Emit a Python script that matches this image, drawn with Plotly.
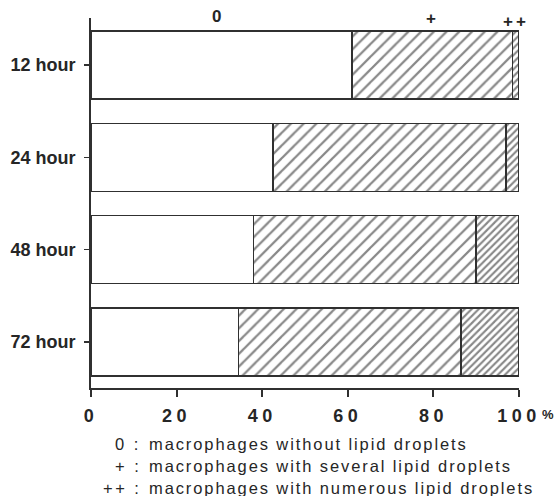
import plotly.graph_objects as go

# ---- data ----
categories = ["12 hour", "24 hour", "48 hour", "72 hour"]
none_pct = [61, 42.5, 38, 34.5]        # 0  : without lipid droplets
several_pct = [37.5, 54.5, 52, 52]     # +  : several lipid droplets
numerous_pct = [1.5, 3, 10, 13.5]      # ++ : numerous lipid droplets
x_ticks = [0, 20, 40, 60, 80, 100]
x_tick_labels = ["0", "20", "40", "60", "80", "100"]
group_keys = ["0", "+", "++"]
group_desc = [
    "macrophages without lipid droplets",
    "macrophages with several lipid droplets",
    "macrophages with numerous lipid droplets",
]

INK = "#262626"
LINE = "#303030"
FONT = "Liberation Sans, Arial, sans-serif"

W, H = 555, 496
L, R, T, B = 91, 36, 18, 108
PW, PH = W - L - R, H - T - B


def px_to_paper_x(px):
    return (px - L) / PW


def px_to_paper_y(py):
    return (H - B - py) / PH


fig = go.Figure()
series = [
    (none_pct, dict(fillmode="overlay", shape="", bgcolor="white")),
    (several_pct, dict(shape="/", size=9, solidity=0.25, fgcolor="#111111", bgcolor="white", fillmode="overlay")),
    (numerous_pct, dict(shape="/", size=5, solidity=0.42, fgcolor="#111111", bgcolor="white", fillmode="overlay")),
]
for (vals, pat), key in zip(series, group_keys):
    fig.add_trace(go.Bar(
        y=categories, x=vals, orientation="h", name=key,
        marker=dict(color="white", pattern=pat, line=dict(color=LINE, width=1.6)),
        showlegend=False, hoverinfo="skip",
    ))

# column header labels above the first bar, centred on its segments
first = [none_pct[0], several_pct[0], numerous_pct[0]]
starts = [0, first[0], first[0] + first[1]]
centers = [s + v / 2 for s, v in zip(starts, first)]
header_shift = [-5, -1, 0]
header_py = [16, 18, 21]
for key, cx, dx, hy in zip(group_keys, centers, header_shift, header_py):
    fig.add_annotation(
        x=cx, y=px_to_paper_y(hy), xref="x", yref="paper", xshift=dx,
        text=f"<span style='letter-spacing:3px'>{key}</span>" if key == "++" else key,
        showarrow=False, xanchor="center", yanchor="middle",
        font=dict(family=FONT, size=17, color=INK, weight="bold"),
    )

# "%" after the 100 tick label
fig.add_annotation(
    x=px_to_paper_x(540), y=px_to_paper_y(414), xref="paper", yref="paper",
    text="%", showarrow=False, xanchor="left", yanchor="middle",
    font=dict(family=FONT, size=13, color=INK, weight="bold"),
)

# explanatory key under the chart
line_y = [444, 466, 488]
for key, desc, ly in zip(group_keys, group_desc, line_y):
    fig.add_annotation(
        x=px_to_paper_x(143), y=px_to_paper_y(ly), xref="paper", yref="paper",
        text=f"<span style='letter-spacing:2.5px'>{key} :</span>", showarrow=False,
        xanchor="right", yanchor="middle",
        font=dict(family=FONT, size=16.5, color=INK),
    )
    fig.add_annotation(
        x=px_to_paper_x(147), y=px_to_paper_y(ly), xref="paper", yref="paper",
        text=f"<span style='letter-spacing:1.9px'>{desc}</span>", showarrow=False,
        xanchor="left", yanchor="middle",
        font=dict(family=FONT, size=16.5, color=INK),
    )

fig.update_layout(
    width=W, height=H,
    margin=dict(l=L, r=R, t=T, b=B, pad=0, autoexpand=False),
    barmode="stack", bargap=0.263,
    plot_bgcolor="white", paper_bgcolor="white",
    font=dict(family=FONT, color=INK),
)
fig.update_xaxes(
    automargin=False,
    range=[0, 100], tickmode="array", tickvals=x_ticks,
    ticktext=[f"<span style='letter-spacing:4.5px'>{t}</span>" for t in x_tick_labels],
    showgrid=False, zeroline=False,
    showline=True, linecolor=LINE, linewidth=2,
    ticks="outside", ticklen=7, tickwidth=2, tickcolor=LINE,
    ticklabelstandoff=3,
    tickfont=dict(family=FONT, size=18, color=INK, weight="bold"),
)
fig.update_yaxes(
    automargin=False,
    categoryorder="array", categoryarray=categories,
    range=[3.5, -0.51],
    showgrid=False, zeroline=False,
    showline=True, linecolor=LINE, linewidth=2,
    ticks="outside", ticklen=5, tickwidth=1.5, tickcolor=LINE,
    ticklabelstandoff=5,
    tickfont=dict(family=FONT, size=18, color=INK, weight="bold"),
)

fig.write_html(
    "out.html",
    config={"displayModeBar": False, "staticPlot": True},
    post_script="document.body.style.margin='0';document.body.style.overflow='hidden';",
)
